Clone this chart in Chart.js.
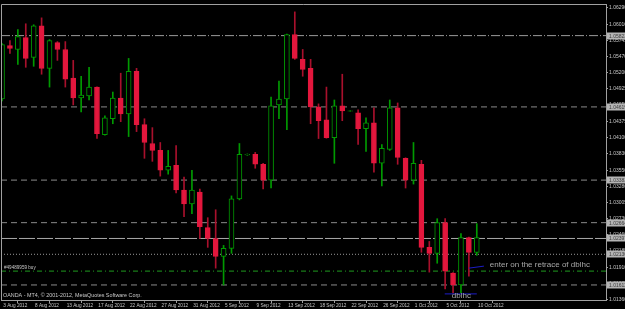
<!DOCTYPE html>
<html>
<head>
<meta charset="utf-8">
<script src="https://cdn.jsdelivr.net/npm/chart.js@4.4.1/dist/chart.umd.min.js"></script>
<style>
  html, body { margin: 0; padding: 0; background: #000; }
  canvas { display: block; }
</style>
</head>
<body>
<canvas id="chart" width="625" height="309"></canvas>
<script>
// ── DATA ─────────────────────────────────────────────
// daily candles (index 0 = 3 Aug 2012)
const opens  = [1.04753,1.05655,1.05589,1.05789,1.05455,1.05990,1.05271,1.05706,1.05589,1.05104,
                1.04770,1.04803,1.04954,1.04152,1.04419,1.04770,1.04502,1.05221,1.04319,1.04001,
                1.03884,1.03550,1.03634,1.03216,1.02982,1.03182,1.02581,1.02397,1.02096,1.02230,
                1.03065,1.03809,1.03817,1.03650,1.03383,1.04653,1.04753,1.05839,1.05422,1.05271,
                1.04619,1.04402,1.04101,1.04636,1.04548,1.04519,1.04252,1.04352,1.03667,1.03901,
                1.04603,1.03751,1.03383,1.03650,1.02247,1.02146,1.02664,1.01812,1.01612,1.02414,
                1.02163];
const highs  = [1.05689,1.05739,1.05923,1.06023,1.06006,1.06123,1.05756,1.05722,1.05722,1.05405,
                1.05137,1.05288,1.04960,1.04469,1.04870,1.05188,1.05438,1.05271,1.04419,1.04269,
                1.04018,1.03884,1.03968,1.03433,1.03550,1.03233,1.02748,1.02882,1.02280,1.03116,
                1.04001,1.03825,1.03851,1.03667,1.04787,1.05054,1.05848,1.06224,1.05589,1.05422,
                1.04670,1.04954,1.04736,1.05171,1.04556,1.04569,1.04436,1.04603,1.03984,1.04736,
                1.04686,1.03760,1.04018,1.03717,1.02347,1.02731,1.02731,1.01820,1.02481,1.02420,
                1.02648];
const lows   = [1.04720,1.05522,1.05338,1.05288,1.05305,1.05171,1.04954,1.05405,1.04954,1.04653,
                1.04536,1.04736,1.04085,1.04140,1.04335,1.04369,1.04118,1.04202,1.03751,1.03700,
                1.03450,1.03483,1.03166,1.02765,1.02815,1.02397,1.02247,1.01896,1.01612,1.02146,
                1.03049,1.03801,1.03583,1.03233,1.03249,1.04419,1.04235,1.05422,1.05137,1.04335,
                1.04085,1.04090,1.03667,1.04386,1.04544,1.03984,1.03867,1.03517,1.03283,1.03884,
                1.03650,1.03249,1.03316,1.02163,1.01829,1.01979,1.01545,1.01478,1.01478,1.01762,
                1.02113];
const closes = [1.05672,1.05605,1.05806,1.05438,1.05990,1.05271,1.05739,1.05589,1.05087,1.04770,
                1.04820,1.04954,1.04168,1.04436,1.04770,1.04502,1.05221,1.04319,1.04018,1.03884,
                1.03550,1.03617,1.03216,1.02982,1.03216,1.02598,1.02397,1.02096,1.02230,1.03065,
                1.03817,1.03817,1.03650,1.03383,1.04636,1.04753,1.05839,1.05438,1.05254,1.04619,
                1.04386,1.04101,1.04636,1.04553,1.04553,1.04252,1.04352,1.03667,1.03918,1.04603,
                1.03767,1.03383,1.03667,1.02247,1.02146,1.02664,1.01846,1.01612,1.02414,1.02163,
                1.02414];

const dateTickIdx = [0, 4, 8, 12, 16, 20, 24, 28, 32, 36, 40, 44, 48, 52, 56, 60];
const dateLabels = ['3 Aug 2012', '8 Aug 2012', '13 Aug 2012', '17 Aug 2012', '22 Aug 2012',
                    '27 Aug 2012', '31 Aug 2012', '5 Sep 2012', '9 Sep 2012', '13 Sep 2012',
                    '18 Sep 2012', '22 Sep 2012', '26 Sep 2012', '1 Oct 2012', '5 Oct 2012', '10 Oct 2012'];

const priceTicks = [1.06290, 1.06016, 1.05745, 1.05470, 1.05200, 1.04925, 1.04650, 1.04375,
                    1.04100, 1.03830, 1.03550, 1.03280, 1.03005, 1.02730, 1.02460, 1.02185,
                    1.01910, 1.01635, 1.01360];

// horizontal levels drawn on the chart
const grayLevels = [1.05823, 1.04619, 1.03383, 1.02664, 1.02397, 1.02130, 1.01612];
const buyLevel = 1.01846;

// hand-drawn blue trendlines [x0, p0, x1, p1]
const blueLines = [[55.95, 1.01461, 60.0, 1.01461], [59.0, 1.01896, 60.9, 1.01930]];

// ── STYLE ────────────────────────────────────────────
const C = {
    bull: '#009a00',
    bear: '#e3173d',
    bearWick: '#a8102c',
    frame: '#a0a0a0',
    text: '#c8c8c8',
    blue: '#1c1cc8',
};
const SMALL = "'Liberation Sans', sans-serif";
const XMIN = -0.13, XMAX = 76.33;

const levelStyles = [
    { dash: [9, 2, 1, 2], color: '#9a9a9a' },
    { dash: [6, 4], color: '#8a8a8a' },
    { dash: [6, 4], color: '#8a8a8a' },
    { dash: [6, 4], color: '#8a8a8a' },
    { dash: [16, 2], color: '#a8a8a8' },
    { dash: [1, 2], color: '#9a9a9a' },
    { dash: [6, 4], color: '#8a8a8a' },
];

const isBull = i => closes[i] >= opens[i];
const idx = opens.map((_, i) => i);

function hLine(p, color, dash) {
    return {
        type: 'line',
        data: [{ x: XMIN, y: p }, { x: XMAX, y: p }],
        borderColor: color,
        borderWidth: 1,
        borderDash: dash,
        pointRadius: 0,
        fill: false,
    };
}

const datasets = [];

// blue trendlines (top)
blueLines.forEach(l => {
    datasets.push({
        type: 'line',
        data: [{ x: l[0], y: l[1] }, { x: l[2], y: l[3] }],
        borderColor: C.blue, borderWidth: 1, pointRadius: 0, fill: false,
    });
});

// bodies
datasets.push({
    type: 'bar',
    grouped: false,
    data: idx.map(i => ({ x: i, y: [opens[i], closes[i]] })),
    backgroundColor: idx.map(i => isBull(i) ? '#000000' : C.bear),
    borderColor: idx.map(i => isBull(i) ? C.bull : C.bear),
    borderWidth: 1,
    borderSkipped: false,
    barThickness: 5,
});

// wicks
datasets.push({
    type: 'bar',
    grouped: false,
    data: idx.map(i => ({ x: i, y: [lows[i], highs[i]] })),
    backgroundColor: idx.map(i => isBull(i) ? C.bull : C.bearWick),
    borderWidth: 0,
    barThickness: 1,
});

// levels (behind)
datasets.push(hLine(buyLevel, '#1f9a1f', [5, 3, 1, 3]));
grayLevels.forEach((p, k) => datasets.push(hLine(p, levelStyles[k].color, levelStyles[k].dash)));

// ── EXTRAS: frame, price tags, texts ─────────────────
const extras = {
    id: 'extras',
    afterDraw(chart) {
        const ctx = chart.ctx;
        const a = chart.chartArea;
        const y = chart.scales.y;
        const x = chart.scales.x;
        ctx.save();
        // top + left frame
        ctx.strokeStyle = C.frame;
        ctx.lineWidth = 1;
        ctx.beginPath();
        ctx.moveTo(a.left + 0.5, a.bottom);
        ctx.lineTo(a.left + 0.5, a.top + 0.5);
        ctx.lineTo(a.right, a.top + 0.5);
        ctx.stroke();

        // price tags on right axis
        ctx.font = '5px ' + SMALL;
        ctx.textBaseline = 'middle';
        ctx.textAlign = 'left';
        grayLevels.forEach(p => {
            const py = Math.round(y.getPixelForValue(p));
            ctx.fillStyle = '#b4b4b4';
            ctx.fillRect(a.right + 1, py - 3.5, 19, 7);
            ctx.fillStyle = '#3a3a3a';
            ctx.fillText(p.toFixed(5), a.right + 3, py + 0.5);
        });

        // order label
        ctx.fillStyle = C.text;
        ctx.font = '4.6px ' + SMALL;
        ctx.textBaseline = 'bottom';
        ctx.fillText('#49489959 buy', a.left + 3, y.getPixelForValue(buyLevel) - 1);

        // copyright
        ctx.font = '5.4px ' + SMALL;
        ctx.textBaseline = 'middle';
        ctx.fillText('OANDA - MT4, \u00a9 2001-2012, MetaQuotes Software Corp.', a.left + 2, a.bottom - 4);

        // comments
        ctx.fillStyle = '#a8a8a8';
        ctx.font = "8px 'Liberation Sans', sans-serif";
        ctx.fillText('enter on the retrace of dblhc', x.getPixelForValue(61.65), y.getPixelForValue(1.01930) - 1);
        ctx.fillText('dblhc', x.getPixelForValue(56.85), y.getPixelForValue(1.01461) + 2);
        ctx.restore();
    }
};

new Chart(document.getElementById('chart'), {
    type: 'bar',
    data: { datasets },
    options: {
        responsive: false,
        animation: false,
        events: [],
        layout: { padding: { left: 1, top: 1, right: 0, bottom: 0 } },
        plugins: { legend: { display: false }, tooltip: { enabled: false } },
        scales: {
            x: {
                type: 'linear',
                min: XMIN,
                max: XMAX,
                bounds: 'data',
                offset: false,
                grid: { drawOnChartArea: false, drawTicks: true, tickLength: 3, color: C.frame },
                border: { color: C.frame },
                afterBuildTicks: s => { s.ticks = dateTickIdx.map(v => ({ value: v })); },
                afterFit: s => { s.height = 9; },
                ticks: {
                    align: 'start',
                    padding: 0,
                    maxRotation: 0,
                    autoSkip: false,
                    color: C.text,
                    font: { family: SMALL, size: 4.7 },
                    callback: (v, i) => ' ' + dateLabels[i],
                },
            },
            y: {
                position: 'right',
                min: 1.01358,
                max: 1.06357,
                bounds: 'data',
                grid: { drawOnChartArea: false, drawTicks: true, tickLength: 2, color: C.frame },
                border: { color: C.frame },
                afterBuildTicks: s => { s.ticks = priceTicks.map(v => ({ value: v })); },
                afterFit: s => { s.width = 19; },
                ticks: {
                    padding: 1,
                    autoSkip: false,
                    color: C.text,
                    font: { family: SMALL, size: 5 },
                    callback: v => v.toFixed(5),
                },
            },
        },
    },
    plugins: [extras],
});
</script>
</body>
</html>
